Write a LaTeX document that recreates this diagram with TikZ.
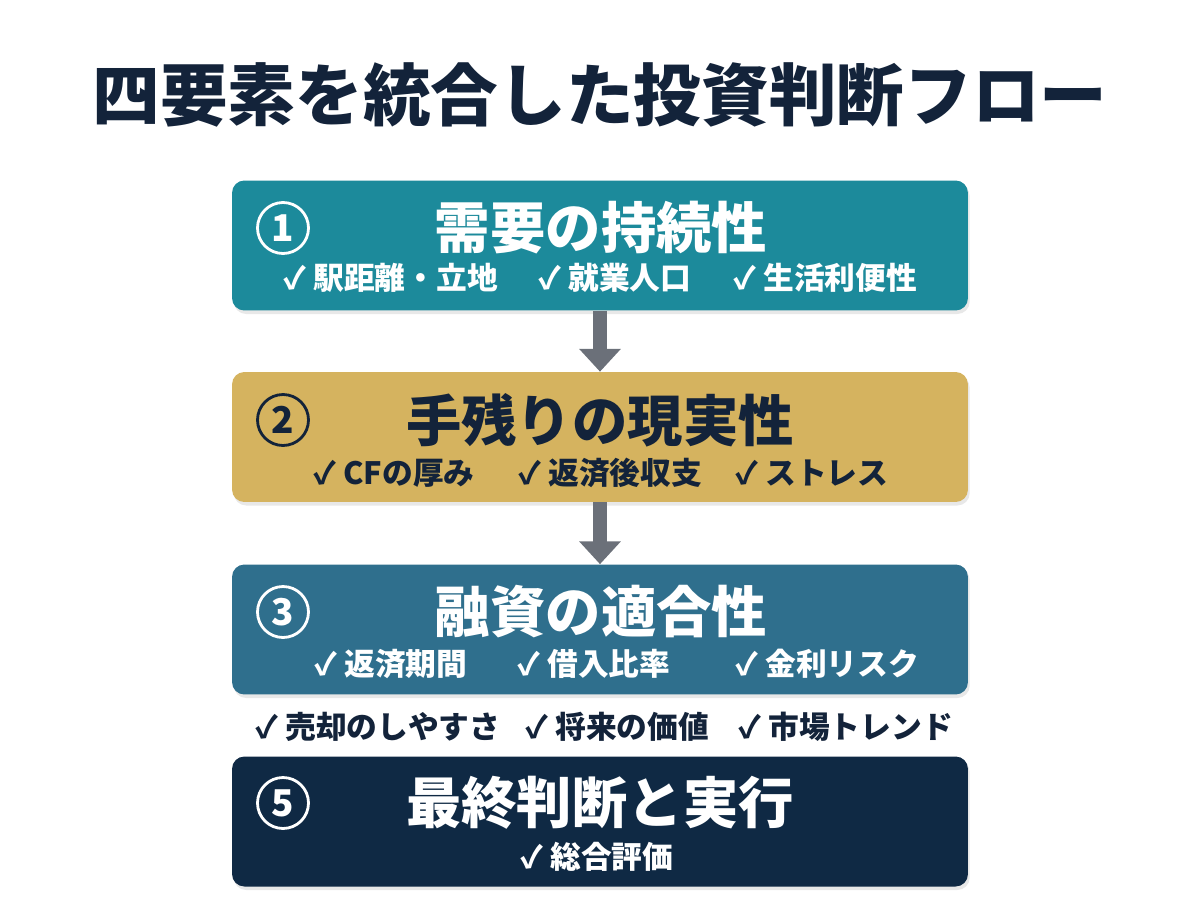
\documentclass[tikz,border=0pt]{standalone}
\usepackage{fontspec}
\usepackage{tikz}
\usetikzlibrary{arrows.meta, shadows}
\newfontfamily\jp{Noto Sans CJK JP}
\definecolor{navyink}{HTML}{13233A}
\definecolor{tealbox}{HTML}{1C8A9B}
\definecolor{goldbox}{HTML}{D5B35F}
\definecolor{bluebox}{HTML}{2F6F8D}
\definecolor{darkbox}{HTML}{0F2944}
\definecolor{arrowgray}{HTML}{6B7079}

\tikzset{
    stagebox/.style={rectangle, rounded corners=7pt, minimum width=14.72cm, minimum height=2.6cm,
        inner sep=0pt, drop shadow={opacity=0.18, shadow xshift=1pt, shadow yshift=-2pt}},
    heading/.style={font=\jp\bfseries\fontsize{31.5}{33}\selectfont},
    item/.style={anchor=west, inner sep=0pt, font=\jp\bfseries\fontsize{17.5}{19}\selectfont},
    numcirc/.style={circle, draw, line width=1.6pt, minimum size=1.02cm, inner sep=0pt,
        font=\jp\bfseries\fontsize{21}{22}\selectfont},
    flowarrow/.style={draw=arrowgray, line width=8pt, -{Triangle[width=23pt, length=13pt]}}
}

\begin{document}
\begin{tikzpicture}[x=0.02cm, y=-0.02cm]
    \useasboundingbox[fill=white] (0,0) rectangle (1200,896);
    % title
    \node[text=navyink, font=\jp\bfseries\fontsize{38.5}{40}\selectfont] (title) at (600,95) {四要素を統合した投資判断フロー};
    % stage 1
    \node[stagebox, fill=tealbox] (s1) at (600,245.5) {};
    \node[numcirc, draw=white, text=white] (n1) at (283,228) {1};
    \node[heading, text=white] (h1) at (601,228) {需要の持続性};
    \node[item, text=white] (a1) at (283,278) {✓ 駅距離・立地};
    \node[item, text=white] (b1) at (538,278) {✓ 就業人口};
    \node[item, text=white] (c1) at (733,278) {✓ 生活利便性};
    % stage 2
    \node[stagebox, fill=goldbox] (s2) at (600,437) {};
    \node[numcirc, draw=navyink, text=navyink] (n2) at (283,420) {2};
    \node[heading, text=navyink] (h2) at (600,420) {手残りの現実性};
    \node[item, text=navyink] (a2) at (313,473) {✓ CFの厚み};
    \node[item, text=navyink] (b2) at (518,473) {✓ 返済後収支};
    \node[item, text=navyink] (c2) at (735,473) {✓ ストレス};
    % stage 3
    \node[stagebox, fill=bluebox] (s3) at (600,629.5) {};
    \node[numcirc, draw=white, text=white] (n3) at (283,612) {3};
    \node[heading, text=white] (h3) at (601,612) {融資の適合性};
    \node[item, text=white] (a3) at (314,664) {✓ 返済期間};
    \node[item, text=white] (b3) at (517,664) {✓ 借入比率};
    \node[item, text=white] (c3) at (735,664) {✓ 金利リスク};
    % stage 4 (row only)
    \node[item, text=navyink] (a4) at (255,727) {✓ 売却のしやすさ};
    \node[item, text=navyink] (b4) at (525,727) {✓ 将来の価値};
    \node[item, text=navyink] (c4) at (738,727) {✓ 市場トレンド};
    % stage 5
    \node[stagebox, fill=darkbox] (s5) at (600,821.5) {};
    \node[numcirc, draw=white, text=white] (n5) at (283,803) {5};
    \node[heading, text=white] (h5) at (600,803) {最終判断と実行};
    \node[item, text=white] (a5) at (520,857) {✓ 総合評価};
    % arrows
    \draw[flowarrow] (s1.south) -- (s2.north);
    \draw[flowarrow] (s2.south) -- (s3.north);
\end{tikzpicture}
\end{document}
